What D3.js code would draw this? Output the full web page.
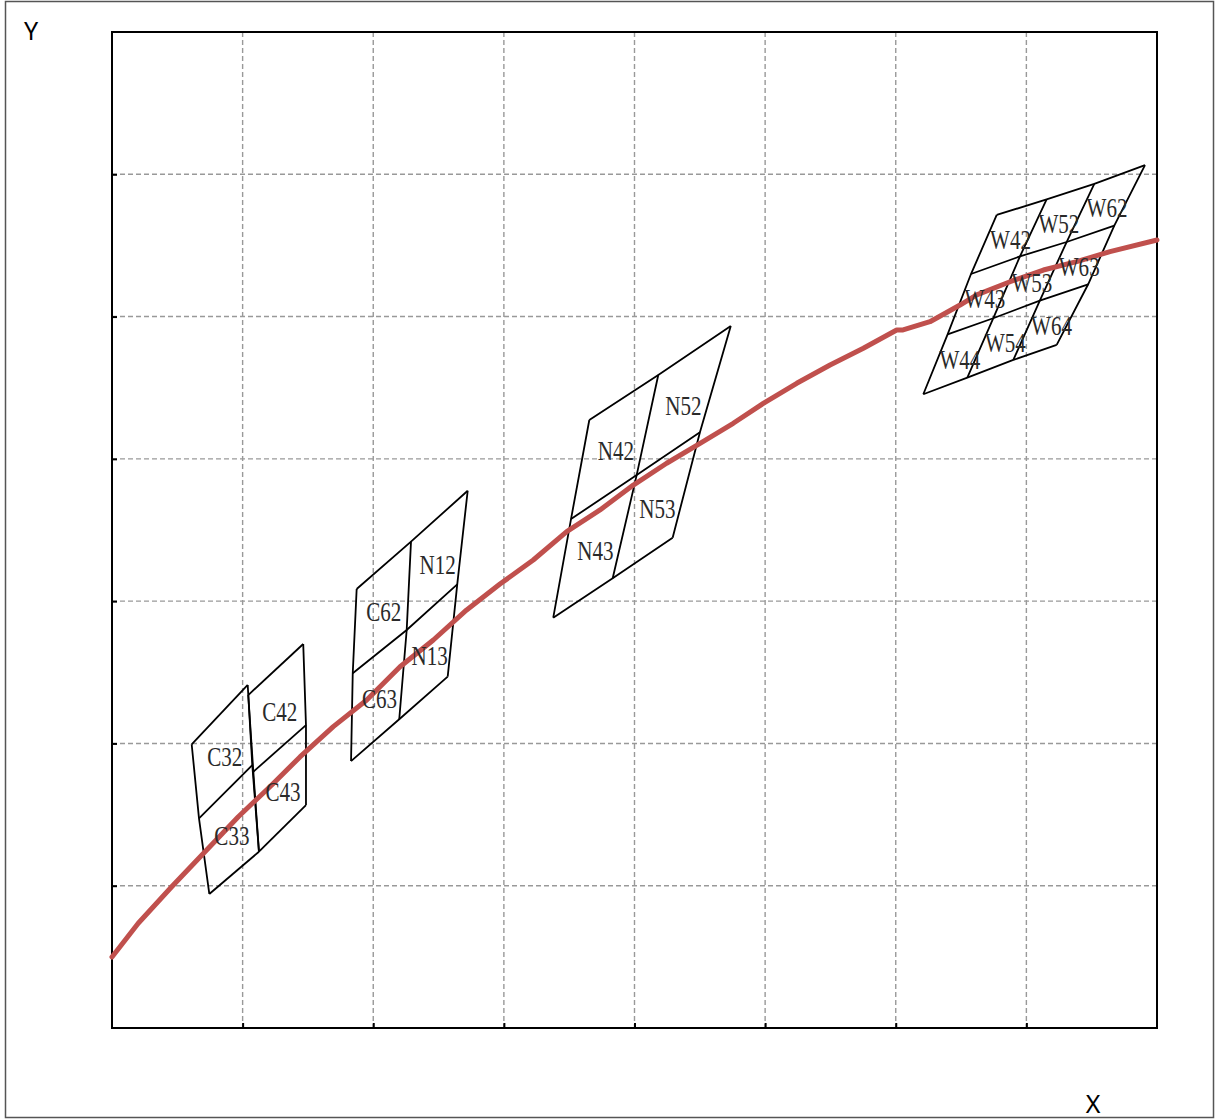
<!DOCTYPE html>
<html>
<head>
<meta charset="utf-8">
<script src="https://cdn.jsdelivr.net/npm/d3@7"></script>
<style>
body { margin: 0; background: #fff; }
svg { display: block; }
.grid line { stroke: #999; stroke-width: 1.4; stroke-dasharray: 5,3; }
.axis path { display: none; }
.axis line { stroke: #000; stroke-width: 2; }
.mesh path { fill: none; stroke: #000; stroke-width: 1.8; stroke-linejoin: miter; }
.cellLabel { font-family: "Liberation Serif", "DejaVu Serif", serif; font-size: 27px; fill: #2a2a2a; }
.axisTitle { font-family: "Noto Sans", "DejaVu Sans", sans-serif; font-size: 25px; fill: #000; }
</style>
</head>
<body>
<script>
//keep everything local
(function(){

//axis ticks (no numbers shown on the original)
var xTicks = [1, 2, 3, 4, 5, 6, 7];
var yTicks = [1, 2, 3, 4, 5, 6];

//red curve in data units
var curveX = [0, 0.201, 0.457, 0.712, 0.967, 1.223, 1.439, 1.694, 1.950, 2.205, 2.460, 2.715, 2.970,
	3.225, 3.481, 3.736, 3.991, 4.246, 4.502, 4.756, 4.986, 5.242, 5.497, 5.752, 6.007, 6.056,
	6.262, 6.492, 6.620, 6.875, 7.130, 7.385, 7.640, 8.0];
var curveY = [0.499, 0.736, 0.993, 1.239, 1.485, 1.708, 1.905, 2.118, 2.305, 2.539, 2.727, 2.938, 3.120,
	3.289, 3.488, 3.641, 3.816, 3.969, 4.109, 4.250, 4.390, 4.531, 4.660, 4.777, 4.906, 4.906,
	4.964, 5.081, 5.152, 5.245, 5.327, 5.386, 5.456, 5.538];

//mesh nodes, rows of [x, y] in data units
var meshC3 = [
	[[0.610, 1.994], [1.039, 2.411]],
	[[0.666, 1.474], [1.074, 1.848]],
	[[0.745, 0.942], [1.125, 1.239]]
];
var meshC4 = [
	[[1.043, 2.340], [1.464, 2.699]],
	[[1.082, 1.801], [1.485, 2.129]],
	[[1.125, 1.239], [1.485, 1.567]]
];
var meshCN = [
	[[1.873, 3.085], [2.289, 3.418], [2.723, 3.776]],
	[[1.843, 2.493], [2.256, 2.797], [2.643, 3.118]],
	[[1.830, 1.876], [2.199, 2.170], [2.570, 2.469]]
];
var meshN = [
	[[3.654, 4.273], [4.182, 4.589], [4.737, 4.934]],
	[[3.514, 3.577], [4.017, 3.887], [4.501, 4.187]],
	[[3.378, 2.884], [3.833, 3.161], [4.292, 3.446]]
];
var meshW = [
	[[6.773, 5.714], [7.155, 5.824], [7.520, 5.932], [7.908, 6.065]],
	[[6.576, 5.299], [6.951, 5.423], [7.308, 5.524], [7.673, 5.639]],
	[[6.397, 4.875], [6.746, 4.988], [7.103, 5.112], [7.473, 5.227]],
	[[6.211, 4.454], [6.548, 4.571], [6.900, 4.695], [7.232, 4.801]]
];

//cell names, same row/column order as the meshes
var labelsC3 = [["C32"], ["C33"]];
var labelsC4 = [["C42"], ["C43"]];
var labelsCN = [["C62", "N12"], ["C63", "N13"]];
var labelsN = [["N42", "N52"], ["N43", "N53"]];
var labelsW = [["W42", "W52", "W62"], ["W43", "W53", "W63"], ["W44", "W54", "W64"]];

var meshes = [
	{nodes: meshC3, labels: labelsC3},
	{nodes: meshC4, labels: labelsC4},
	{nodes: meshCN, labels: labelsCN},
	{nodes: meshN, labels: labelsN},
	{nodes: meshW, labels: labelsW}
];

var width = 1215, height = 1120;
var left = 112, right = 1157, top = 32, bottom = 1028;

var svg = d3.select("body")
	.append("svg")
	.attr("width", width)
	.attr("height", height);

//outer frame
svg.append("rect")
	.attr("x", 5.5)
	.attr("y", 1.5)
	.attr("width", 1208)
	.attr("height", 1116)
	.attr("fill", "none")
	.attr("stroke", "#555")
	.attr("stroke-width", 1.5);

var x = d3.scaleLinear().domain([0, 8]).range([left, right]);
var y = d3.scaleLinear().domain([0, 7]).range([bottom, top]);

//dashed grid
var grid = svg.append("g").attr("class", "grid");
grid.selectAll(".vx")
	.data(xTicks)
	.enter()
	.append("line")
	.attr("x1", function(d){ return x(d); })
	.attr("x2", function(d){ return x(d); })
	.attr("y1", top)
	.attr("y2", bottom);
grid.selectAll(".hy")
	.data(yTicks)
	.enter()
	.append("line")
	.attr("x1", left)
	.attr("x2", right)
	.attr("y1", function(d){ return y(d); })
	.attr("y2", function(d){ return y(d); });

//inward ticks
svg.append("g")
	.attr("class", "axis")
	.attr("transform", "translate(0," + bottom + ")")
	.call(d3.axisBottom(x).tickValues(xTicks).tickSize(-5).tickFormat(""));
svg.append("g")
	.attr("class", "axis")
	.attr("transform", "translate(" + left + ",0)")
	.call(d3.axisLeft(y).tickValues(yTicks).tickSize(-5).tickFormat(""));

//plot box
svg.append("rect")
	.attr("x", left)
	.attr("y", top)
	.attr("width", right - left)
	.attr("height", bottom - top)
	.attr("fill", "none")
	.attr("stroke", "#000")
	.attr("stroke-width", 2);

var line = d3.line()
	.x(function(d){ return x(d[0]); })
	.y(function(d){ return y(d[1]); });

//mesh lines: every row and every column as a polyline
var meshG = svg.append("g").attr("class", "mesh");
meshes.forEach(function(m){
	var nodes = m.nodes;
	nodes.forEach(function(row){
		meshG.append("path").attr("d", line(row));
	});
	for (var c = 0; c < nodes[0].length; c++){
		var col = nodes.map(function(row){ return row[c]; });
		meshG.append("path").attr("d", line(col));
	}
});

//red curve
var curveData = curveX.map(function(v, i){ return [v, curveY[i]]; });
svg.append("path")
	.attr("d", line(curveData))
	.attr("fill", "none")
	.attr("stroke", "#c0504d")
	.attr("stroke-width", 5)
	.attr("stroke-linejoin", "round")
	.attr("stroke-linecap", "round");

//cell labels at cell centres
var labelG = svg.append("g");
meshes.forEach(function(m){
	m.labels.forEach(function(row, r){
		row.forEach(function(name, c){
			var pts = [m.nodes[r][c], m.nodes[r][c + 1], m.nodes[r + 1][c + 1], m.nodes[r + 1][c]];
			var cx = d3.mean(pts, function(p){ return x(p[0]); }) + 2;
			var cy = d3.mean(pts, function(p){ return y(p[1]); }) + 3;
			labelG.append("text")
				.attr("class", "cellLabel")
				.attr("text-anchor", "middle")
				.attr("dominant-baseline", "central")
				.attr("transform", "translate(" + cx + "," + cy + ") scale(0.78,1)")
				.text(name);
		});
	});
});

//axis titles
svg.append("text")
	.attr("class", "axisTitle")
	.attr("x", 31)
	.attr("y", 40)
	.attr("text-anchor", "middle")
	.text("Y");
svg.append("text")
	.attr("class", "axisTitle")
	.attr("x", 1093)
	.attr("y", 1113)
	.attr("text-anchor", "middle")
	.text("X");

})();
</script>
</body>
</html>
